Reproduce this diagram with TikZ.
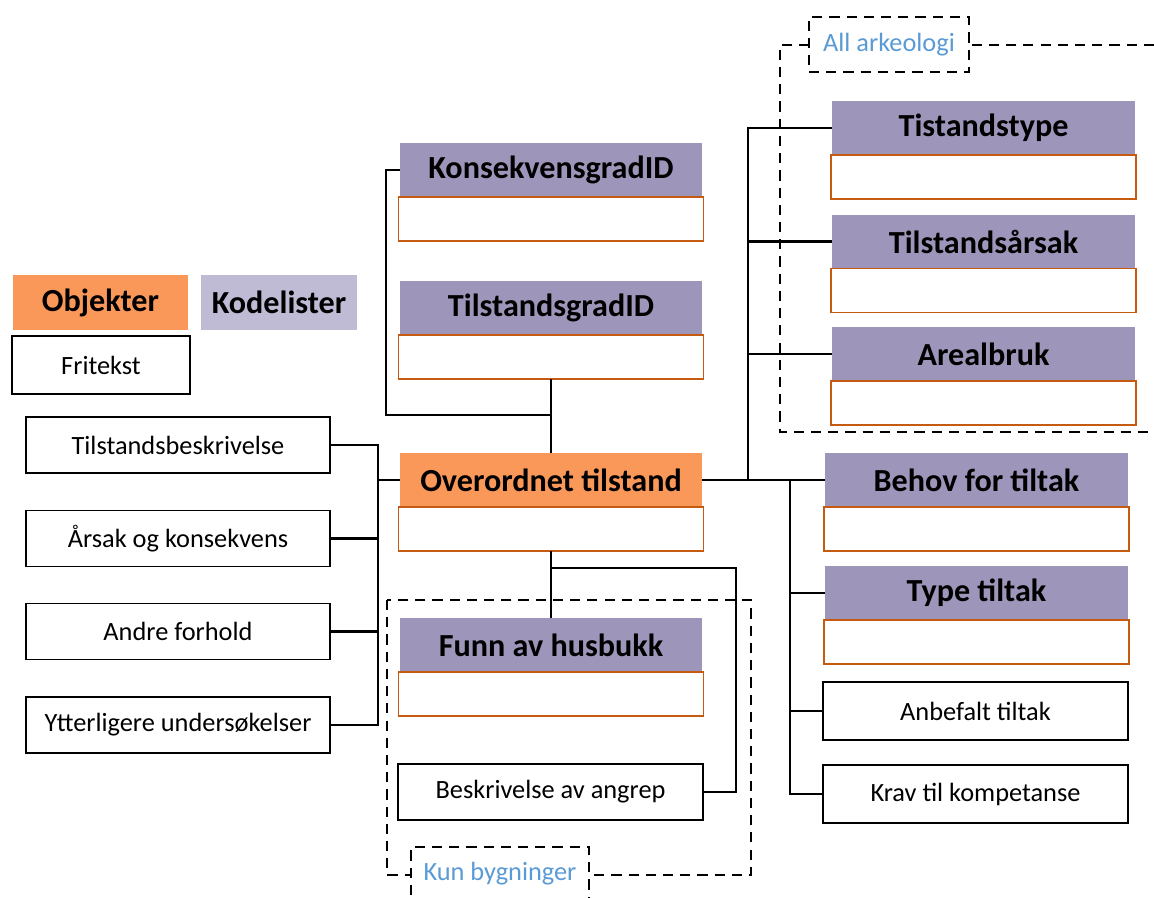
\documentclass[tikz,border=0pt]{standalone}
\usepackage{fontspec}
\setmainfont{Carlito}
\usepackage{tikz}
\usetikzlibrary{positioning}
\definecolor{objorange}{RGB}{250,152,90}
\definecolor{kodepurple}{RGB}{158,150,186}
\definecolor{kodelight}{RGB}{191,187,212}
\definecolor{subborder}{RGB}{197,90,17}
\definecolor{noteblue}{RGB}{91,155,213}

\begin{document}
\begin{tikzpicture}[x=0.02cm, y=-0.02cm,
    hdr/.style={fill=kodepurple, minimum width=6.04cm, minimum height=1.08cm, inner sep=0pt, outer sep=0pt, font=\fontsize{18.3}{20}\selectfont\bfseries},
    obj/.style={hdr, fill=objorange},
    sub/.style={draw=subborder, line width=0.8pt, fill=white, minimum width=6.1cm, minimum height=0.88cm, inner sep=0pt, outer sep=0pt},
    fri/.style={draw, line width=0.9pt, fill=white, minimum width=6.08cm, minimum height=1.12cm, inner sep=0pt, font=\fontsize{15}{17}\selectfont},
    conn/.style={line width=1.4pt},
    dashbox/.style={dash pattern=on 5.8pt off 4pt, line width=0.9pt},
    note/.style={dashbox, draw, fill=white, text=noteblue, inner sep=0pt, font=\fontsize{15}{17}\selectfont}]
    \useasboundingbox (0,0) rectangle (1154,898);

    % Legend
    \node[obj, minimum width=3.5cm, minimum height=1.1cm] (legobj) at (100.5,302.5) {Objekter};
    \node[hdr, fill=kodelight, minimum width=3.12cm, minimum height=1.1cm] (legkode) at (279,302.5) {Kodelister};
    \node[fri, minimum width=3.56cm, minimum height=1.16cm] (legfri) at (101,365) {Fritekst};

    % Dashed groups
    \draw[dashbox] (1154,45) -| (780,432) -- (1154,432);
    \draw[dashbox] (387,600) rectangle (751,875);

    % Main object
    \node[obj] (over) at (551,480) {Overordnet tilstand};
    \node[sub, below=0pt of over] (overS) {};

    % Code lists above
    \node[hdr] (konsek) at (551,170) {KonsekvensgradID};
    \node[sub, below=0pt of konsek] (konsekS) {};
    \node[hdr] (tgrad) at (551,308) {TilstandsgradID};
    \node[sub, below=0pt of tgrad] (tgradS) {};

    % Free text left
    \node[fri] (tbesk) at (178,445) {Tilstandsbeskrivelse};
    \node[fri] (arsak) at (178,538.5) {Årsak og konsekvens};
    \node[fri] (andre) at (178,631.5) {Andre forhold};
    \node[fri] (ytter) at (178,725) {Ytterligere undersøkelser};

    % Kun bygninger
    \node[hdr] (funn) at (551,645) {Funn av husbukk};
    \node[sub, below=0pt of funn] (funnS) {};
    \node[fri, minimum width=6.1cm] (beskr) at (550.5,792) {Beskrivelse av angrep};

    % All arkeologi
    \node[hdr, minimum width=6.06cm] (ttype) at (983.5,128) {Tistandstype};
    \node[sub, below=0pt of ttype] (ttypeS) {};
    \node[hdr, minimum width=6.06cm] (tarsak) at (983.5,241.5) {Tilstandsårsak};
    \node[sub, below=0pt of tarsak] (tarsakS) {};
    \node[hdr, minimum width=6.06cm] (areal) at (983.5,354) {Arealbruk};
    \node[sub, below=0pt of areal] (arealS) {};

    % Tiltak
    \node[hdr, minimum width=6.06cm] (behov) at (976.5,480) {Behov for tiltak};
    \node[sub, below=0pt of behov] (behovS) {};
    \node[hdr, minimum width=6.06cm] (ttiltak) at (976.5,593) {Type tiltak};
    \node[sub, below=0pt of ttiltak] (ttiltakS) {};
    \node[fri, minimum width=6.1cm, minimum height=1.16cm] (anbef) at (975.5,711) {Anbefalt tiltak};
    \node[fri, minimum width=6.1cm, minimum height=1.16cm] (krav) at (975.5,794) {Krav til kompetanse};

    % Labels of the groups
    \node[note, minimum width=3.2cm, minimum height=1.1cm] (arklabel) at (889,44.5) {All arkeologi};
    \node[note, minimum width=3.56cm, minimum height=1.08cm] (bygglabel) at (500,874) {Kun bygninger};

    % Connectors
    \coordinate (busL) at (378,480);
    \coordinate (joinK) at (551,415);
    \coordinate (bendK) at (386,415);
    \coordinate (busA) at (748,480);
    \coordinate (busB) at (790,480);
    \coordinate (joinB) at (551,568);
    \coordinate (bendB) at (736,568);
    \draw[conn] (over.west) -- (busL);
    \foreach \n in {tbesk,arsak,andre,ytter}
        \draw[conn] (busL) |- (\n.east);
    \draw[conn] (over.north) -- (tgradS.south);
    \draw[conn] (konsek.west) -| (bendK) -- (joinK);
    \draw[conn] (over.east) -- (behov.west);
    \foreach \n in {ttype,tarsak,areal}
        \draw[conn] (busA) |- (\n.west);
    \foreach \n in {ttiltak,anbef,krav}
        \draw[conn] (busB) |- (\n.west);
    \draw[conn] (overS.south) -- (funn.north);
    \draw[conn] (joinB) -- (bendB) |- (beskr.east);
\end{tikzpicture}
\end{document}
